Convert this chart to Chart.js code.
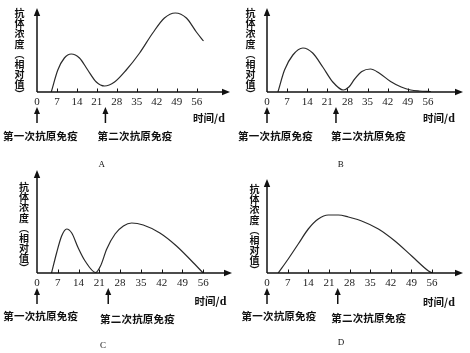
<!DOCTYPE html>
<html><head><meta charset="utf-8">
<script src="https://cdn.jsdelivr.net/npm/chart.js@4.4.1/dist/chart.umd.min.js"></script>
<style>
html,body{margin:0;padding:0;background:#fff;}
#wrap{position:relative;width:470px;height:353px;overflow:hidden;background:#fff;}
canvas{position:absolute;}
.t{position:absolute;transform:translate(-50%,-50%);white-space:nowrap;font-family:"Noto Sans CJK SC","Noto Sans CJK JP",sans-serif;font-weight:700;color:#111;line-height:1;}
.b{font-size:10.5px;letter-spacing:0.2px;}
.v{writing-mode:vertical-rl;font-size:10px;letter-spacing:0.15px;}
.u{font-size:10.5px;}
.u i{font-style:normal;font-family:"Liberation Serif",serif;font-weight:700;font-size:12px;}
.L{font-family:"Liberation Serif",serif;font-weight:400;font-size:9px;}
</style></head>
<body><div id="wrap">
<canvas id="cA" width="235" height="160" style="left:0;top:0"></canvas>
<canvas id="cB" width="235" height="160" style="left:235px;top:0"></canvas>
<canvas id="cC" width="235" height="193" style="left:0;top:160px"></canvas>
<canvas id="cD" width="235" height="193" style="left:235px;top:160px"></canvas>

<div class="t v" style="left:19px;top:54px">抗体浓度（相对值）</div>
<div class="t v" style="left:250px;top:54px">抗体浓度（相对值）</div>
<div class="t v" style="left:23.5px;top:228px">抗体浓度（相对值）</div>
<div class="t v" style="left:254px;top:230px">抗体浓度（相对值）</div>

<div class="t b" style="left:40.5px;top:136px">第一次抗原免疫</div>
<div class="t b" style="left:135px;top:136px">第二次抗原免疫</div>
<div class="t b" style="left:275.5px;top:136px">第一次抗原免疫</div>
<div class="t b" style="left:368.5px;top:136px">第二次抗原免疫</div>
<div class="t b" style="left:40.7px;top:316px">第一次抗原免疫</div>
<div class="t b" style="left:137.5px;top:318.5px">第二次抗原免疫</div>
<div class="t b" style="left:279px;top:315.5px">第一次抗原免疫</div>
<div class="t b" style="left:368.7px;top:317.7px">第二次抗原免疫</div>

<div class="t u" style="left:209px;top:118px">时间/<i>d</i></div>
<div class="t u" style="left:439px;top:118px">时间/<i>d</i></div>
<div class="t u" style="left:210.5px;top:301px">时间/<i>d</i></div>
<div class="t u" style="left:439px;top:302px">时间/<i>d</i></div>

<div class="t L" style="left:101.7px;top:163.5px">A</div>
<div class="t L" style="left:340.7px;top:164px">B</div>
<div class="t L" style="left:103px;top:345px">C</div>
<div class="t L" style="left:341px;top:342px">D</div>
</div>
<script>
// x-axis ticks (days)
const TICK_DAYS = [0, 7, 14, 21, 28, 35, 42, 49, 56];
const TICK_LABELS = ['0', '7', '14', '21', '28', '35', '42', '49', '56'];
// days of first and second antigen immunisation
const IMMUNE_DAYS = [0, 24];

// Panel A: antibody concentration (relative)
const DAYS_A = [5, 7.3, 9.6, 12, 14.9, 17.8, 20.8, 23.7, 27.2, 31.3, 36, 40.6, 44.7, 48.5, 52.4, 55.9, 58.4];
const VALUES_A = [0, 22, 34, 38, 34, 22, 10, 6, 10, 22, 39, 59, 74, 79, 74, 60, 51];
// Panel B
const DAYS_B = [3.8, 6.1, 9, 12.5, 15.9, 19.4, 22.9, 26.5, 28.5, 30.5, 33, 36, 39, 43, 46.7, 50, 53, 57];
const VALUES_B = [0, 22, 37, 44, 39, 25, 10, 2, 5, 13, 20.5, 23, 19, 10.5, 5, 2, 1, 0.5];
// Panel C
const DAYS_C = [4.9, 6.6, 8.3, 10, 11.7, 13.9, 16.2, 19.8, 21.4, 23.5, 26.3, 29.1, 31.9, 35.8, 41.4, 47, 52.1, 56];
const VALUES_C = [0, 20, 37, 44, 40, 25, 12, 0.5, 7, 24, 39, 47, 50, 48, 40, 27, 12, 0];
// Panel D
const DAYS_D = [3.8, 7.2, 10.6, 14, 17.4, 20.8, 24.2, 27.6, 32.1, 37.8, 43.4, 49.1, 54.8, 56];
const VALUES_D = [0, 14, 29, 44, 54, 58, 58, 56, 52, 44, 32, 17, 2, 0];

const axesPlugin = {
  id: 'axesArrows',
  afterDraw(chart) {
    const ctx = chart.ctx, ca = chart.chartArea, x = chart.scales.x;
    const ox = x.getPixelForValue(0), oy = ca.bottom;
    ctx.save();
    ctx.strokeStyle = '#111'; ctx.fillStyle = '#111';
    ctx.lineWidth = 1.5;
    // y axis
    ctx.beginPath(); ctx.moveTo(ox, oy); ctx.lineTo(ox, ca.top + 6); ctx.stroke();
    ctx.beginPath(); ctx.moveTo(ox, ca.top); ctx.lineTo(ox - 3.2, ca.top + 8); ctx.lineTo(ox + 3.2, ca.top + 8); ctx.closePath(); ctx.fill();
    // x axis
    ctx.beginPath(); ctx.moveTo(ox, oy); ctx.lineTo(ca.right - 6, oy); ctx.stroke();
    ctx.beginPath(); ctx.moveTo(ca.right, oy); ctx.lineTo(ca.right - 8, oy - 3.2); ctx.lineTo(ca.right - 8, oy + 3.2); ctx.closePath(); ctx.fill();
    // tick marks
    ctx.lineWidth = 1;
    TICK_DAYS.forEach(d => {
      if (d === 0) return;
      const px = Math.round(x.getPixelForValue(d)) + 0.5;
      ctx.beginPath(); ctx.moveTo(px, oy); ctx.lineTo(px, oy - 3.5); ctx.stroke();
    });
    // immunisation arrows
    ctx.lineWidth = 1.5;
    IMMUNE_DAYS.forEach(d => {
      const px = x.getPixelForValue(d);
      const tip = oy + 15, end = oy + 31;
      ctx.beginPath(); ctx.moveTo(px, tip + 5); ctx.lineTo(px, end); ctx.stroke();
      ctx.beginPath(); ctx.moveTo(px, tip); ctx.lineTo(px - 3, tip + 7); ctx.lineTo(px + 3, tip + 7); ctx.closePath(); ctx.fill();
    });
    ctx.restore();
  }
};

function makeChart(id, days, values, xMax, yMax, pad) {
  new Chart(document.getElementById(id), {
    type: 'line',
    data: { datasets: [{
      data: days.map((d, i) => ({ x: d, y: values[i] })),
      borderColor: '#2a2a2a', borderWidth: 1.2, pointRadius: 0,
      cubicInterpolationMode: 'monotone', fill: false
    }]},
    options: {
      responsive: false, animation: false, devicePixelRatio: 1,
      layout: { padding: pad },
      plugins: { legend: { display: false }, tooltip: { enabled: false } },
      scales: {
        x: {
          type: 'linear', min: 0, max: xMax,
          grid: { display: false, drawTicks: false }, border: { display: false },
          afterBuildTicks: s => { s.ticks = TICK_DAYS.map(v => ({ value: v })); },
          afterFit: s => { s.height = 20; },
          ticks: { padding: 4, color: '#222', maxRotation: 0, autoSkip: false,
            font: { family: '"Liberation Serif", serif', size: 11 },
            callback: (v, i) => TICK_LABELS[i] }
        },
        y: { display: false, min: 0, max: yMax }
      }
    },
    plugins: [axesPlugin]
  });
}

makeChart('cA', DAYS_A, VALUES_A, 67.7, 84, { left: 37, right: 5, top: 8, bottom: 48 });
makeChart('cB', DAYS_B, VALUES_B, 68.2, 84, { left: 32, right: 7, top: 8, bottom: 48 });
makeChart('cC', DAYS_C, VALUES_C, 65.7, 103, { left: 37, right: 3, top: 10, bottom: 60 });
makeChart('cD', DAYS_D, VALUES_D, 66.5, 94, { left: 32, right: 7, top: 19, bottom: 60 });
</script>
</body></html>
